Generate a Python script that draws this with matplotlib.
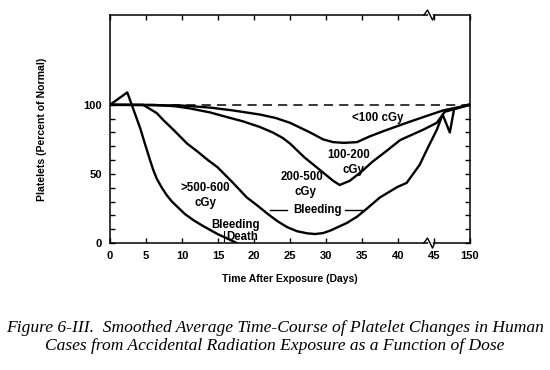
import numpy as np
import matplotlib

matplotlib.use("Agg")
import matplotlib.pyplot as plt  # noqa: E402

# x positions are plotted days; the axis is broken after 45 so that 150 sits at 50
tick_pos = [0, 5, 10, 15, 20, 25, 30, 35, 40, 45, 50]
tick_labels = ["0", "5", "10", "15", "20", "25", "30", "35", "40", "45", "150"]

# curves (day position, percent of normal)
dose_hi_x = [0, 2.4, 3.3, 4.2, 4.9, 5.5, 6.0, 6.5, 7.2, 7.9, 8.6, 9.3, 10.4,
             11.6, 12.8, 13.9, 15, 16.2, 17, 17.6]
dose_hi_y = [100, 109, 96, 83, 71, 61, 53, 46.5, 40, 34.5, 30, 26.5, 21,
             16.5, 12.7, 9.5, 6.3, 3.5, 1.5, 0]

dose_mid_x = [0, 4.6, 6.5, 7.4, 8.8, 10.7, 12.2, 13.6, 14.9, 17, 19, 20.5, 21.8,
              23.2, 24.6, 26, 27.4, 28.5, 29.6, 30.6, 32.9, 34.3, 35.7, 37.5,
              39.9, 41.2, 43, 44.2, 45.4, 46.2, 47.2, 47.8, 50]
dose_mid_y = [100, 100, 94, 89, 82, 72, 66, 60, 55, 44, 33, 27, 21.5,
              16, 11.5, 8.5, 7, 6.5, 7.2, 9, 14.5, 19, 25, 33,
              40.5, 43.5, 56.5, 69.5, 82, 93, 80, 97, 100.5]

dose_lo_x = [0, 6, 9, 11, 13.9, 16, 18.5, 20.8, 22.6, 24, 25, 27, 29.6, 31, 31.9,
             33.3, 35, 36.5, 38.5, 40.3, 42, 43.5, 45.4, 46.5, 50]
dose_lo_y = [100, 100, 99, 97.5, 94.5, 91.5, 88, 84, 80, 76, 72, 62, 51, 45, 42,
             45, 52, 59, 67, 74.5, 78.5, 82, 87, 95, 100]

dose_min_x = [0, 10, 13.9, 17, 20.8, 23, 25, 27.8, 29.6, 31, 32.5, 34.3, 36, 38,
              41.2, 44, 46.3, 50]
dose_min_y = [100, 99.5, 98, 96, 93, 90.5, 87, 80, 75, 73, 72.5, 73, 77, 81,
              87, 92, 96, 100]

fig = plt.figure(figsize=(5.5, 3.7), dpi=100)
ax = fig.add_axes([0.2, 0.3432, 0.6545, 0.6162])

lw = 1.7
ax.axhline(100, color="black", lw=1.1, ls=(0, (6, 4)))
for xs, ys in [(dose_hi_x, dose_hi_y), (dose_mid_x, dose_mid_y),
               (dose_lo_x, dose_lo_y), (dose_min_x, dose_min_y)]:
    ax.plot(xs, ys, color="black", lw=lw, solid_joinstyle="round",
            solid_capstyle="round")

ax.set_xlim(0, 50)
ax.set_ylim(0, 165)
ax.set_xticks(tick_pos)
ax.set_xticklabels(tick_labels)
ax.set_yticks(np.arange(0, 101, 10))
ax.set_yticklabels(["0", "", "", "", "", "50", "", "", "", "", "100"])
ax.tick_params(axis="both", direction="in", length=3.5, width=1.0,
               labelsize=8, pad=6)
ax.tick_params(axis="x", top=True)
ax.tick_params(axis="y", right=True)
for lab in ax.get_xticklabels() + ax.get_yticklabels():
    lab.set_fontweight("bold")
    lab.set_family("Liberation Sans")
for sp in ax.spines.values():
    sp.set_linewidth(1.1)

# axis break marks on top and bottom spines
for yb in (0, 165):
    ax.plot([44.3, 44.6], [yb, yb], color="white", lw=2, clip_on=False, zorder=4)
    ax.plot([43.6, 44.1, 44.8, 45.1], [yb, yb + 3.6, yb - 3.6, yb],
            color="black", lw=1.0, clip_on=False, zorder=5)

ax.set_xlabel("Time After Exposure (Days)", fontsize=7.5, fontweight="bold",
              family="Liberation Sans", labelpad=9)
ax.set_ylabel("Platelets (Percent of Normal)", fontsize=7.6, fontweight="bold",
              family="Liberation Sans", labelpad=26)

txt = dict(fontsize=8.3, fontweight="bold", family="Liberation Sans",
           ha="center", va="center")
ax.text(37.2, 90.5, "<100 cGy", **txt)
ax.text(33.2, 64, "100-200", **txt)
ax.text(33.8, 53, "cGy", **txt)
ax.text(26.7, 48, "200-500", **txt)
ax.text(27.2, 37, "cGy", **txt)
ax.text(13.3, 40, ">500-600", **txt)
ax.text(13.3, 29, "cGy", **txt)
ax.text(17.4, 13, "Bleeding", **txt)
ax.text(18.3, 4, "Death", **txt)
ax.plot([15.8, 15.8], [1.5, 9], color="black", lw=0.8)
ax.text(28.8, 24, "Bleeding", **txt)
ax.plot([22.2, 24.6], [24, 24], color="black", lw=1.0)
ax.plot([32.6, 35.0], [24, 24], color="black", lw=1.0)

cap = dict(fontsize=12.6, style="italic", family="Liberation Serif",
           ha="center", va="center")
fig.text(0.5, 1 - 328 / 370,
         "Figure 6-III.  Smoothed Average Time-Course of Platelet Changes in Human",
         **cap)
fig.text(0.5, 1 - 346 / 370,
         "Cases from Accidental Radiation Exposure as a Function of Dose", **cap)

fig.savefig("out.png", dpi=100)
